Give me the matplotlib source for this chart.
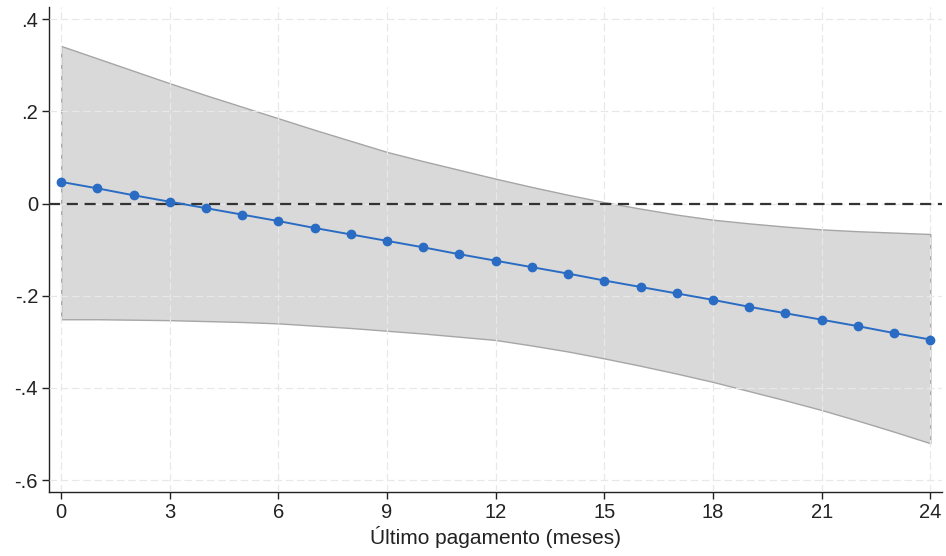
import numpy as np
import matplotlib
matplotlib.use("Agg")
import matplotlib.pyplot as plt
from matplotlib.ticker import FuncFormatter

plt.rcParams["font.family"] = ["Liberation Sans", "DejaVu Sans"]

# Data
months = list(range(25))
estimate = [0.047, 0.033, 0.018, 0.004, -0.010, -0.024, -0.038, -0.053, -0.067,
            -0.081, -0.095, -0.110, -0.124, -0.138, -0.152, -0.167, -0.181,
            -0.195, -0.209, -0.224, -0.238, -0.252, -0.266, -0.281, -0.295]
ci_upper = [0.342, 0.315, 0.288, 0.261, 0.235, 0.210, 0.185, 0.160, 0.136,
            0.112, 0.092, 0.073, 0.054, 0.036, 0.019, 0.003, -0.011, -0.024,
            -0.035, -0.043, -0.050, -0.056, -0.060, -0.063, -0.066]
ci_lower = [-0.251, -0.251, -0.252, -0.253, -0.255, -0.257, -0.260, -0.265,
            -0.270, -0.276, -0.282, -0.289, -0.296, -0.308, -0.321, -0.336,
            -0.352, -0.369, -0.387, -0.407, -0.427, -0.448, -0.471, -0.495,
            -0.520]
x_ticks = [0, 3, 6, 9, 12, 15, 18, 21, 24]
y_ticks = [-0.6, -0.4, -0.2, 0.0, 0.2, 0.4]

fig = plt.figure(figsize=(9.46, 5.56), dpi=100)
ax = fig.add_axes([0.052, 0.115, 0.944, 0.872])

# Confidence band (outlined polygon, like Stata's rarea)
ax.fill_between(months, ci_lower, ci_upper, facecolor="#d9d9d9",
                edgecolor="#a6a6a6", lw=1.0, zorder=1)

# Reference line at zero
ax.axhline(0, color="#333333", lw=1.6, ls=(0, (5, 3)), zorder=3)

# Point estimates
ax.plot(months, estimate, color="#2a6cc4", lw=1.4, marker="o", ms=6,
        zorder=4)

ax.set_xlim(-0.33, 24.33)
ax.set_ylim(-0.626, 0.426)
ax.set_xticks(x_ticks)
ax.set_yticks(y_ticks)


def stata_fmt(v, pos):
    if abs(v) < 1e-9:
        return "0"
    s = f"{v:.1f}"
    return s.replace("0.", ".")


ax.yaxis.set_major_formatter(FuncFormatter(stata_fmt))
ax.grid(True, color="#e8e8e8", ls=(0, (6, 3)), lw=0.9, zorder=2.5)
ax.set_axisbelow(False)
for side in ["top", "right"]:
    ax.spines[side].set_visible(False)
for side in ["left", "bottom"]:
    ax.spines[side].set_color("#222222")
    ax.spines[side].set_linewidth(1.0)
ax.tick_params(axis="both", direction="out", length=5, width=1.0,
               color="#222222", labelsize=14.5, labelcolor="#222222", pad=3)
ax.set_xlabel("Último pagamento (meses)", fontsize=15, color="#222222",
              labelpad=3)

fig.savefig("out.png", dpi=100)
